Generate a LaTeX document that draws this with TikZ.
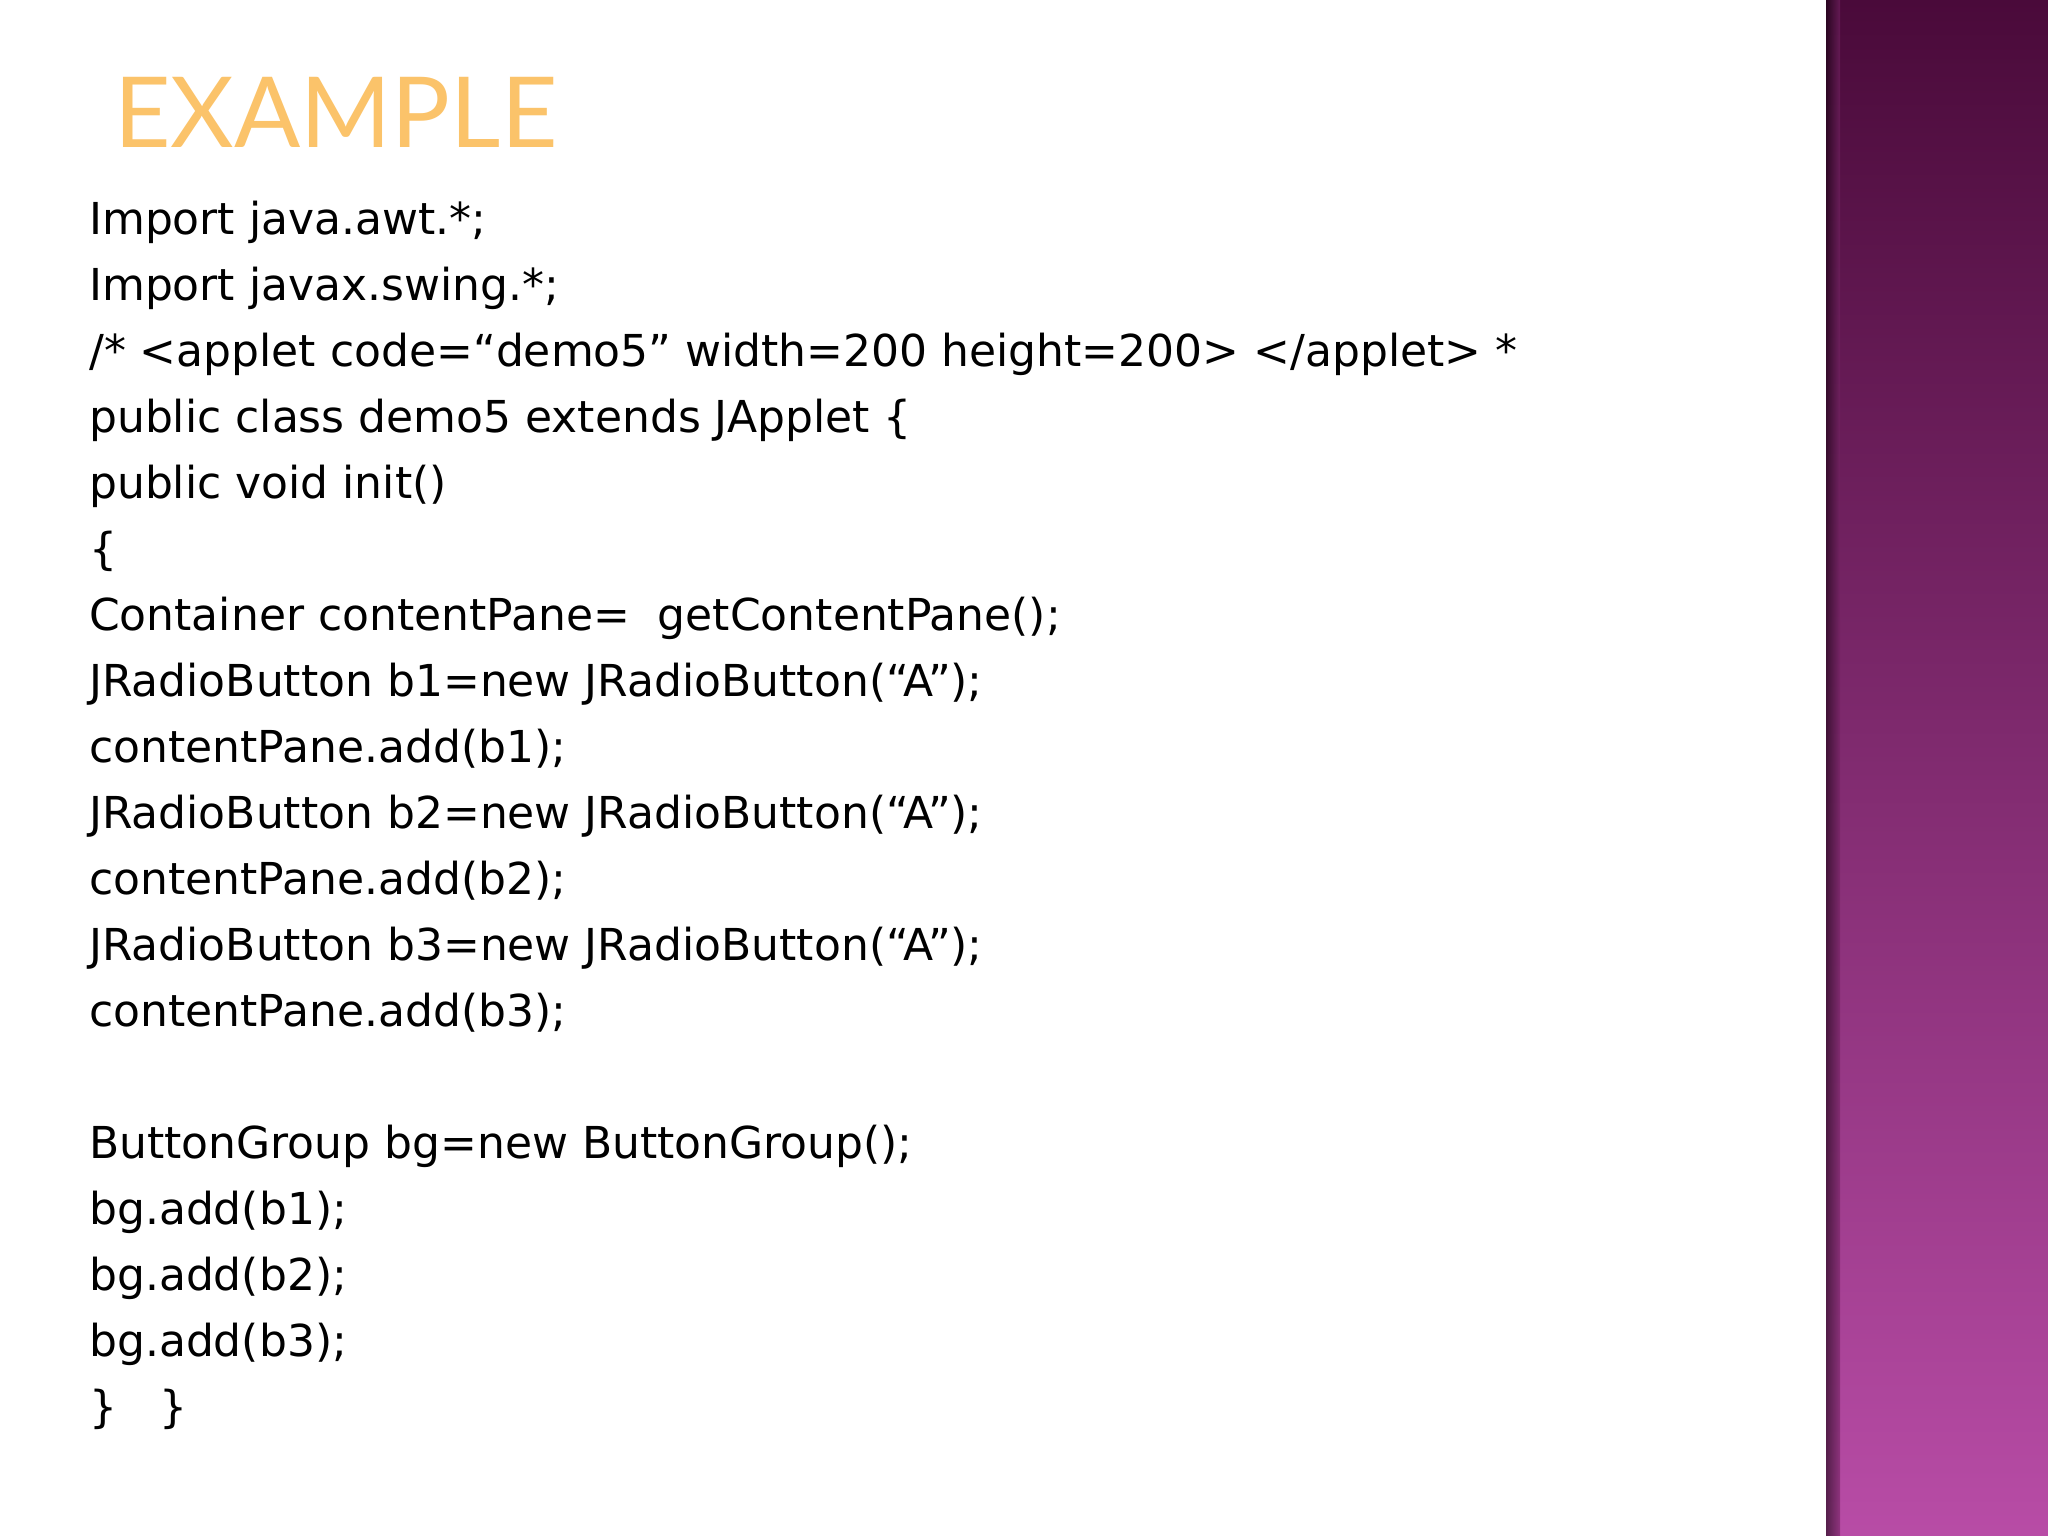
\documentclass[tikz,border=0pt]{standalone}
\usepackage{fontspec}
\setmainfont{DejaVu Sans}
\newfontfamily\titlefont{Lato}
\definecolor{bartop}{HTML}{4A0A3A}
\definecolor{barbot}{HTML}{B84CA6}
\definecolor{titleor}{HTML}{FBC36A}
\definecolor{titleedge}{HTML}{A07A70}
\begin{document}
\begin{tikzpicture}[x=1pt,y=-1pt,
  codeline/.style={anchor=base west,inner sep=0pt,font=\fontsize{44}{50}\selectfont}]
\useasboundingbox (0,0) rectangle (2048,1536);
\fill[white] (0,0) rectangle (2048,1536);
\shade[top color=bartop,bottom color=barbot] (1826,0) rectangle (2048,1536);
\shade[left color=black!70!bartop,right color=bartop!60!barbot,opacity=0.6] (1826,0) rectangle (1840,1536);
\node[anchor=base west,inner sep=0pt,text=titleor,font=\titlefont\fontsize{98}{98}\selectfont] (title) at (114,148) {EXAMPLE};
\foreach \t [count=\i] in {
 {Import java.awt.*;},
 {Import javax.swing.*;},
 {/* <applet code=“demo5” width=200 height=200> </applet> *},
 {public class demo5 extends JApplet \{},
 {public void init()},
 {\{},
 {Container contentPane=\ \ getContentPane();},
 {JRadioButton b1=new JRadioButton(“A”);},
 {contentPane.add(b1);},
 {JRadioButton b2=new JRadioButton(“A”);},
 {contentPane.add(b2);},
 {JRadioButton b3=new JRadioButton(“A”);},
 {contentPane.add(b3);},
 {},
 {ButtonGroup bg=new ButtonGroup();},
 {bg.add(b1);},
 {bg.add(b2);},
 {bg.add(b3);},
 {\}\ \ \ \}}}
 \node[codeline] (l\i) at (89,{234+66*(\i-1)}) {\t};
\end{tikzpicture}
\end{document}
